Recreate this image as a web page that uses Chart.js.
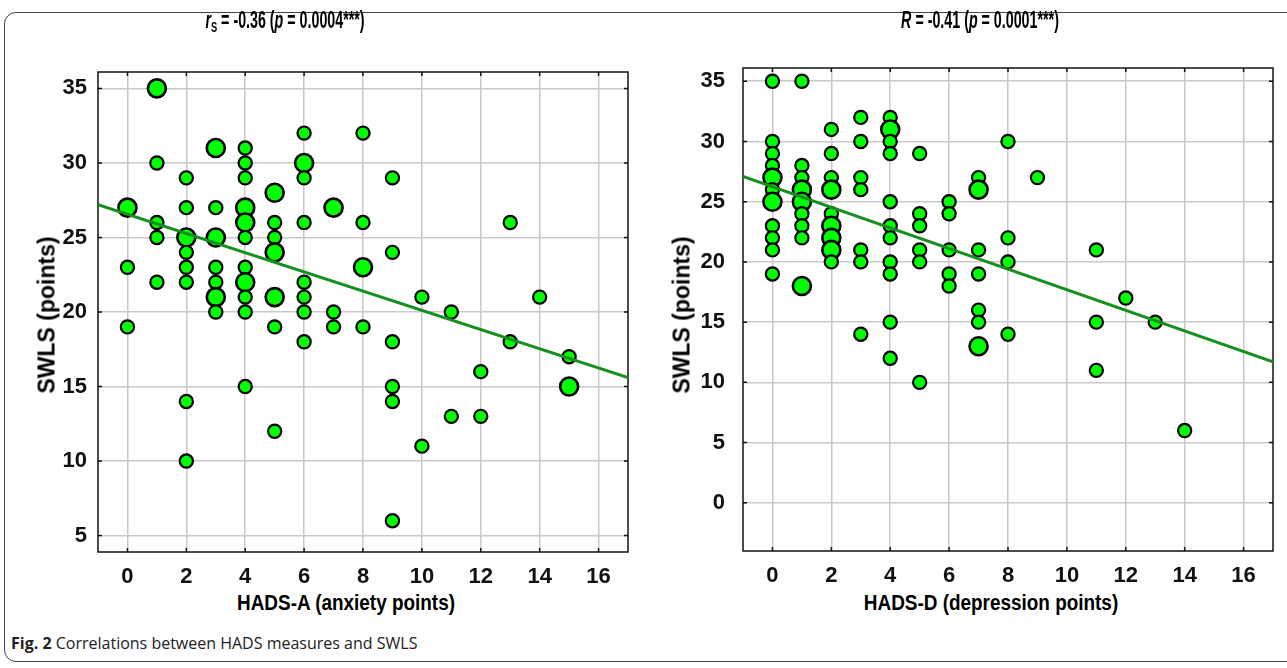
<!DOCTYPE html>
<html>
<head>
<meta charset="utf-8">
<script src="https://cdn.jsdelivr.net/npm/chart.js@4.4.1/dist/chart.umd.min.js"></script>
<style>
  body { margin: 0; background: #fff; width: 1287px; height: 668px; overflow: hidden; position: relative;
         font-family: "Liberation Sans", Arial, sans-serif; }
  #frame { position: absolute; left: 4px; top: 12px; width: 1300px; height: 648px;
           border: 1.5px solid #444; border-radius: 12px; }
  canvas { position: absolute; top: 0; }
  .title { position: absolute; top: 7px; font-weight: bold; font-size: 23px; white-space: nowrap;
           transform: translateX(-50%) scaleX(0.62); }
  .title sub { font-size: 15px; vertical-align: -4px; font-style: normal; }
  .xtitle { position: absolute; top: 590px; font-weight: bold; font-size: 22px; white-space: nowrap;
            transform: translateX(-50%) scaleX(0.86); }
  .ytitle { position: absolute; top: 315px; font-weight: bold; font-size: 23px; white-space: nowrap;
            transform: translate(-50%, -50%) rotate(-90deg); }
  #caption { position: absolute; left: 11px; top: 632px; font-family: "Open Sans", sans-serif; font-size: 16px; color: #222; }
</style>
</head>
<body>
<div id="frame"></div>
<canvas id="anxChart" width="645" height="590" style="left:0"></canvas>
<canvas id="depChart" width="642" height="590" style="left:645px"></canvas>

<div class="title" style="left:285px"><i>r</i><sub>S</sub> = -0.36 (<i>p</i> = 0.0004***)</div>
<div class="title" style="left:980px"><i>R</i> = -0.41 (<i>p</i> = 0.0001***)</div>
<div class="ytitle" style="left:47px">SWLS (points)</div>
<div class="ytitle" style="left:682px">SWLS (points)</div>
<div class="xtitle" style="left:346px">HADS-A (anxiety points)</div>
<div class="xtitle" style="left:991px">HADS-D (depression points)</div>
<div id="caption"><b>Fig. 2</b> Correlations between HADS measures and SWLS</div>

<script>
// HADS-A vs SWLS (n = 2 means a bigger, double marker)
const anxX = [0,0,0, 1,1,1,1,1, 2,2,2,2,2,2,2,2, 3,3,3,3,3,3,3,
  4,4,4,4,4,4,4,4,4,4,4, 5,5,5,5,5,5,5, 6,6,6,6,6,6,6,6, 7,7,7, 8,8,8,8,
  9,9,9,9,9,9, 10,10, 11,11, 12,12, 13,13, 14, 15,15];
const anxY = [27,23,19, 35,30,26,25,22, 29,27,25,24,23,22,14,10, 31,27,25,23,22,21,20,
  31,30,29,27,26,25,23,22,21,20,15, 28,26,25,24,21,19,12, 32,30,29,26,22,21,20,18, 27,20,19, 32,26,23,19,
  29,24,18,15,14,6, 21,11, 20,13, 16,13, 26,18, 21, 17,15];
const anxN = [2,1,1, 2,1,1,1,1, 1,1,2,1,1,1,1,1, 2,1,2,1,1,2,1,
  1,1,1,2,2,1,1,2,1,1,1, 2,1,1,2,2,1,1, 1,2,1,1,1,1,1,1, 2,1,1, 1,1,2,1,
  1,1,1,1,1,1, 1,1, 1,1, 1,1, 1,1, 1, 1,2];
const anxFit = { intercept: 26.55, slope: -0.644 };

// HADS-D vs SWLS
const depX = [0,0,0,0,0,0,0,0,0,0,0, 1,1,1,1,1,1,1,1,1, 2,2,2,2,2,2,2,2,2,
  3,3,3,3,3,3,3, 4,4,4,4,4,4,4,4,4,4,4, 5,5,5,5,5,5, 6,6,6,6,6,
  7,7,7,7,7,7,7, 8,8,8,8, 9, 11,11,11, 12, 13, 14];
const depY = [35,30,29,28,27,26,25,23,22,21,19, 35,28,27,26,25,24,23,22,18, 31,29,27,26,24,23,22,21,20,
  32,30,27,26,21,20,14, 32,31,30,29,25,23,22,20,19,15,12, 29,24,23,21,20,10, 25,24,21,19,18,
  27,26,21,19,16,15,13, 30,22,20,14, 27, 21,15,11, 17, 15, 6];
const depN = [1,1,1,1,2,1,2,1,1,1,1, 1,1,1,2,2,1,1,1,2, 1,1,1,2,1,2,2,2,1,
  1,1,1,1,1,1,1, 1,2,1,1,1,1,1,1,1,1,1, 1,1,1,1,1,1, 1,1,1,1,1,
  1,2,1,1,1,1,2, 1,1,1,1, 1, 1,1,1, 1, 1, 1];
const depFit = { intercept: 26.25, slope: -0.856 };

const xTicks = [0, 2, 4, 6, 8, 10, 12, 14, 16];
const anxYTicks = [5, 10, 15, 20, 25, 30, 35];
const depYTicks = [0, 5, 10, 15, 20, 25, 30, 35];

const tickFont = { family: "'Liberation Sans', Arial, sans-serif", size: 22, weight: 'bold' };

// plot box and short inward tick marks
const boxPlugin = {
  id: 'box',
  beforeDatasetsDraw(chart) {
    const { ctx, chartArea: a, scales } = chart;
    ctx.save();
    ctx.strokeStyle = '#111';
    ctx.lineWidth = 1.5;
    ctx.strokeRect(a.left, a.top, a.right - a.left, a.bottom - a.top);
    ctx.beginPath();
    scales.x.ticks.forEach(t => {
      const px = scales.x.getPixelForValue(t.value);
      ctx.moveTo(px, a.top); ctx.lineTo(px, a.top + 4);
      ctx.moveTo(px, a.bottom); ctx.lineTo(px, a.bottom - 4);
    });
    scales.y.ticks.forEach(t => {
      const py = scales.y.getPixelForValue(t.value);
      ctx.moveTo(a.left, py); ctx.lineTo(a.left + 4, py);
      ctx.moveTo(a.right, py); ctx.lineTo(a.right - 4, py);
    });
    ctx.stroke();
    ctx.restore();
  }
};

function makeChart(id, xs, ys, ns, fit, yMin, yMax, yTicks, padTop, padRight, xHeight, yPad) {
  const pts = xs.map((x, i) => ({ x, y: ys[i] }));
  const fitLine = [-1, 17].map(x => ({ x, y: fit.intercept + fit.slope * x }));
  return new Chart(document.getElementById(id), {
    type: 'scatter',
    data: {
      datasets: [
        {
          type: 'line',
          data: fitLine,
          borderColor: '#16901c',
          borderWidth: 3,
          pointRadius: 0,
          order: 0
        },
        {
          data: pts,
          backgroundColor: '#00ff00',
          borderColor: '#000',
          pointRadius: ns.map(n => n > 1 ? 9 : 6.6),
          borderWidth: ns.map(n => n > 1 ? 2.6 : 2.2),
          order: 1
        }
      ]
    },
    options: {
      responsive: false,
      animation: false,
      layout: { padding: { left: 0, top: padTop, right: padRight, bottom: 0 } },
      plugins: { legend: { display: false }, tooltip: { enabled: false } },
      scales: {
        x: {
          type: 'linear', min: -1, max: 17,
          afterBuildTicks: s => { s.ticks = xTicks.map(v => ({ value: v })); },
          afterFit: s => { s.height = xHeight; },
          grid: { color: '#c9c9c9', lineWidth: 1.5, drawTicks: false },
          border: { display: false },
          ticks: { color: '#111', font: tickFont, padding: 12, maxRotation: 0 }
        },
        y: {
          type: 'linear', min: yMin, max: yMax,
          afterBuildTicks: s => { s.ticks = yTicks.map(v => ({ value: v })); },
          afterFit: s => { s.width = 98; },
          grid: { color: '#c9c9c9', lineWidth: 1.5, drawTicks: false },
          border: { display: false },
          ticks: { color: '#111', font: tickFont, padding: yPad }
        }
      }
    },
    plugins: [boxPlugin]
  });
}

makeChart('anxChart', anxX, anxY, anxN, anxFit, 3.9, 36.1, anxYTicks, 72, 17, 38, 11);
makeChart('depChart', depX, depY, depN, depFit, -4, 36.1, depYTicks, 68, 14, 39, 18);
</script>
</body>
</html>
